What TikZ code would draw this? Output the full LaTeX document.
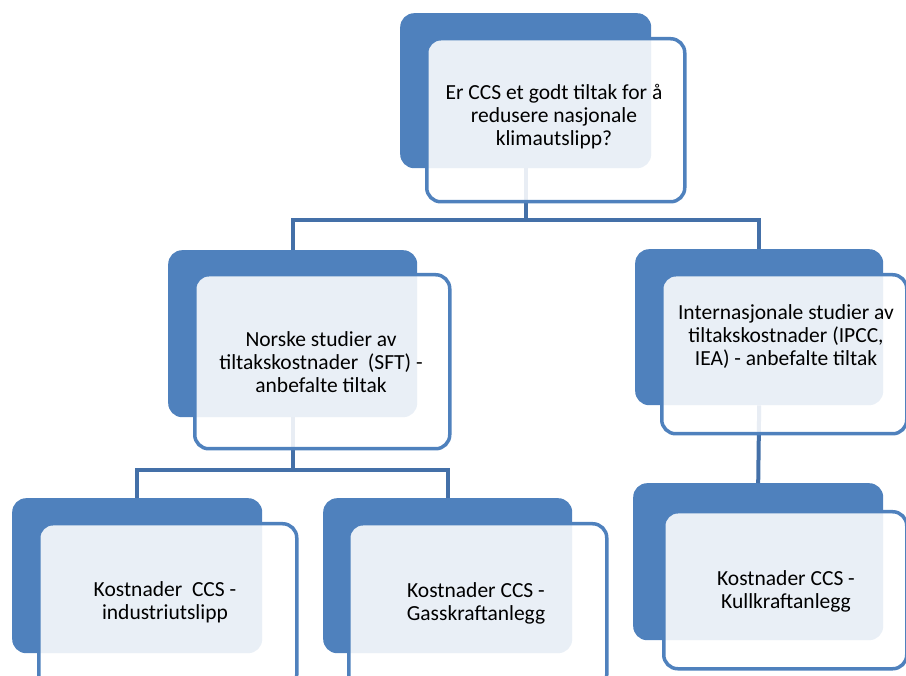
\documentclass[tikz,border=0pt]{standalone}
\usepackage{fontspec}
\setmainfont{Carlito}
\usepackage{xcolor}
\usetikzlibrary{positioning}
\definecolor{ccsblue}{HTML}{4F81BD}
\definecolor{ccsline}{HTML}{4470A8}

\begin{document}
\begin{tikzpicture}[
            x=1pt, y=-1pt,
            back/.style={rectangle, rounded corners=14pt, fill=ccsblue, inner sep=0pt, anchor=north west},
            front/.style={rectangle, rounded corners=14pt, draw=ccsblue, line width=3.5pt, fill=white, fill opacity=0.88, inner sep=0pt, anchor=north west},
            conn/.style={draw=ccsline, line width=4pt},
            txt/.style={align=center, font=\fontsize{21.5}{23}\selectfont, text=black},
        ]
            \clip (0,0) rectangle (906,676);
            % back boxes
            \node[back, minimum width=251pt, minimum height=155pt] (b0) at (400,13) {};
            \node[back, minimum width=249pt, minimum height=167pt] (b1) at (168,250) {};
            \node[back, minimum width=248pt, minimum height=156pt] (b2) at (635,249) {};
            \node[back, minimum width=250pt, minimum height=155pt] (b3) at (12,498) {};
            \node[back, minimum width=249pt, minimum height=155pt] (b4) at (323,498) {};
            \node[back, minimum width=250pt, minimum height=157pt] (b5) at (633,483) {};
            % connectors
            \draw[conn] (b0.south) -- ++(0,52) -| (b1.north);
            \draw[conn] (b0.south) -- ++(0,52) -| (b2.north);
            \draw[conn] (b1.south) -- ++(0,53) -| (b3.north);
            \draw[conn] (b1.south) -- ++(0,53) -| (b4.north);
            \draw[conn] (b2.south) -- (b5.north);
            % front boxes
            \node[front, minimum width=258pt, minimum height=163pt] (f0) at (425,37) {};
            \node[front, minimum width=255pt, minimum height=174pt] (f1) at (193,273) {};
            \node[front, minimum width=245pt, minimum height=159pt] (f2) at (660,273) {};
            \node[front, minimum width=258pt, minimum height=165pt] (f3) at (37,522) {};
            \node[front, minimum width=258pt, minimum height=165pt] (f4) at (347,522) {};
            \node[front, minimum width=243pt, minimum height=157pt] (f5) at (662,510) {};
            % texts
            \node[txt] (t0) at (554,117) {Er CCS et godt tiltak for å\\redusere nasjonale\\klimautslipp?};
            \node[txt] (t1) at (321,362) {Norske studier av\\tiltakskostnader\ \ (SFT) -\\anbefalte tiltak};
            \node[txt] (t2) at (786,337) {Internasjonale studier av\\tiltakskostnader (IPCC,\\IEA) - anbefalte tiltak};
            \node[txt] (t3) at (165,602) {Kostnader\ \ CCS -\\industriutslipp};
            \node[txt] (t4) at (476,603) {Kostnader CCS -\\Gasskraftanlegg};
            \node[txt] (t5) at (786,591) {Kostnader CCS -\\Kullkraftanlegg};
        \end{tikzpicture}
\end{document}
